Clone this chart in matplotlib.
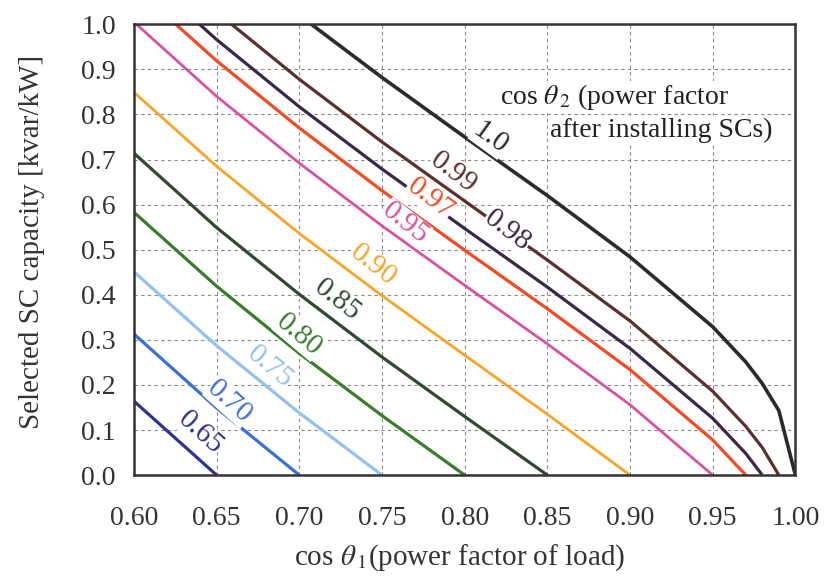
import matplotlib
matplotlib.use("Agg")
import matplotlib.pyplot as plt

# power factor of load (x axis)
pf1 = [0.60, 0.65, 0.70, 0.75, 0.80, 0.85, 0.90, 0.95, 0.97, 0.98, 0.99, 1.00]

# SC capacity [kvar/kW] for each target power factor, read along pf1
q_065 = [0.164, 0.000]
q_070 = [0.313, 0.149, 0.000]
q_075 = [0.451, 0.287, 0.138, 0.000]
q_080 = [0.583, 0.419, 0.270, 0.132, 0.000]
q_085 = [0.714, 0.549, 0.401, 0.262, 0.130, 0.000]
q_090 = [0.849, 0.685, 0.536, 0.398, 0.266, 0.135, 0.000]
q_095 = [1.005, 0.840, 0.692, 0.553, 0.421, 0.291, 0.156, 0.000]
q_097 = [1.083, 0.919, 0.770, 0.631, 0.499, 0.369, 0.234, 0.078, 0.000]
q_098 = [1.130, 0.966, 0.817, 0.679, 0.547, 0.417, 0.281, 0.126, 0.048, 0.000]
q_099 = [1.191, 1.027, 0.878, 0.739, 0.608, 0.477, 0.342, 0.186, 0.108, 0.061, 0.000]
q_100 = [1.333, 1.169, 1.020, 0.882, 0.750, 0.620, 0.484, 0.329, 0.251, 0.203, 0.143, 0.000]

curve_labels = ["0.65", "0.70", "0.75", "0.80", "0.85", "0.90",
                "0.95", "0.97", "0.98", "0.99", "1.0"]
curves = [q_065, q_070, q_075, q_080, q_085, q_090,
          q_095, q_097, q_098, q_099, q_100]

colors = ["#2e3192", "#3b6fdc", "#94c2f0", "#3a7d2c", "#2f4a30", "#f7a427",
          "#d9529f", "#f24a24", "#3b2845", "#5b2f2c", "#2b2b2b"]
widths = [2.3, 2.3, 2.3, 2.3, 2.3, 2.0, 2.0, 2.3, 2.3, 2.3, 2.6]

# label placement (x, y, rotation) - style only
label_pos = [(0.640, 0.093, -42), (0.658, 0.162, -42), (0.682, 0.239, -40),
             (0.700, 0.310, -40), (0.723, 0.388, -38), (0.745, 0.466, -38),
             (0.764, 0.559, -38), (0.779, 0.614, -37), (0.826, 0.543, -37),
             (0.793, 0.670, -37), (0.8154, 0.747, -36)]

plt.rcParams['font.family'] = ['Liberation Serif', 'DejaVu Serif']
plt.rcParams['mathtext.fontset'] = 'stix'


def main():
    fig = plt.figure(figsize=(8.32, 5.78), dpi=100)
    ax = fig.add_axes([0.161, 0.178, 0.795, 0.780])

    for q, c, lw in zip(curves, colors, widths):
        ax.plot(pf1[:len(q)], q, color=c, linewidth=lw, solid_capstyle='butt',
                zorder=3)

    for (x, y, rot), txt, c in zip(label_pos, curve_labels, colors):
        ax.text(x, y, txt, color=c, fontsize=21, rotation=rot,
                ha='center', va='center', rotation_mode='anchor', zorder=4,
                bbox=dict(facecolor='white', edgecolor='none', pad=0.2))

    ax.text(0.8215, 0.838, r"cos $\theta_{\,2}$ (power factor",
            fontsize=20, ha='left', va='center', color='#222222', zorder=5,
            bbox=dict(facecolor='white', edgecolor='none', pad=0.5))
    ax.text(0.8517, 0.765, "after installing SCs)",
            fontsize=20, ha='left', va='center', color='#222222', zorder=5,
            bbox=dict(facecolor='white', edgecolor='none', pad=0.5))

    ax.set_xlim(0.60, 1.00)
    ax.set_ylim(0.0, 1.0)
    ax.set_xticks([0.60, 0.65, 0.70, 0.75, 0.80, 0.85, 0.90, 0.95, 1.00])
    ax.set_xticklabels(["0.60", "0.65", "0.70", "0.75", "0.80", "0.85",
                        "0.90", "0.95", "1.00"])
    ax.set_yticks([i / 10 for i in range(11)])
    ax.set_yticklabels(["0.0", "0.1", "0.2", "0.3", "0.4", "0.5",
                        "0.6", "0.7", "0.8", "0.9", "1.0"])
    ax.tick_params(length=0, labelsize=20, colors='#333333')
    ax.tick_params(axis='x', pad=22)
    ax.tick_params(axis='y', pad=13)
    ax.grid(True, linestyle=(0, (3, 3)), color='#8a8a8a', linewidth=0.8)

    for s in ax.spines.values():
        s.set_linewidth(1.8)
        s.set_color('#333333')
        s.set_zorder(6)

    fig.text(460 / 832, 1 - 558 / 578,
             r"cos $\theta_{\,1}$(power factor of load)", fontsize=21,
             color='#333333', ha='center', va='center')
    fig.text(32 / 832, 1 - 242 / 578, "Selected SC capacity [kvar/kW]",
             fontsize=21, color='#333333', ha='center', va='center',
             rotation=90)

    plt.savefig("out.png", dpi=100)


if __name__ == "__main__":
    main()
